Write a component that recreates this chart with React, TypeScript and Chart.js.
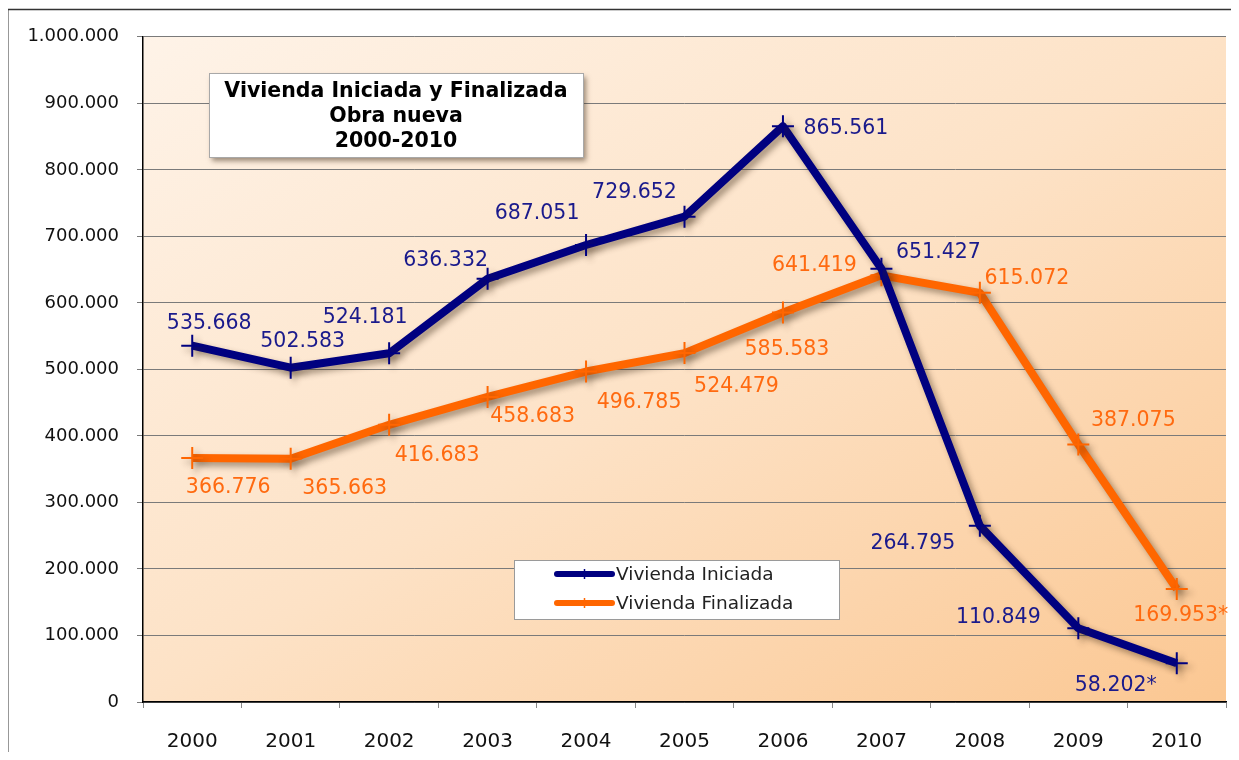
import React, { useEffect, useRef } from 'react';
import { Chart, registerables } from 'chart.js';

Chart.register(...registerables);

// ---------- data ----------
const years = ['2000', '2001', '2002', '2003', '2004', '2005', '2006', '2007', '2008', '2009', '2010'];
const iniciada = [535668, 502583, 524181, 636332, 687051, 729652, 865561, 651427, 264795, 110849, 58202];
const finalizada = [366776, 365663, 416683, 458683, 496785, 524479, 585583, 641419, 615072, 387075, 169953];
const iniciadaNotes = ['', '', '', '', '', '', '', '', '', '', '*'];
const finalizadaNotes = ['', '', '', '', '', '', '', '', '', '', '*'];
const seriesNames = ['Vivienda Iniciada', 'Vivienda Finalizada'];
const titleLines = ['Vivienda Iniciada y Finalizada', 'Obra nueva', '2000-2010'];
const yMin = 0;
const yMax = 1000000;
const yStep = 100000;

// ---------- styling / layout ----------
const NAVY = '#000080';
const ORANGE = '#FF6600';
const FONT = '"DejaVu Sans", Verdana, sans-serif';
// offsets of each data label from its point (px)
const iniciadaLabelOffsets = [[17, -22], [12, -26], [-24, -36], [-42, -18], [-49, -31], [-50, -24], [63, 2], [57, -16], [-67, 18], [-80, -11], [-61, 22]];
const finalizadaLabelOffsets = [[36, 30], [54, 30], [48, 31], [45, 20], [53, 31], [52, 34], [4, 37], [-67, -10], [47, -14], [55, -24], [4, 27]];

const fmt = (n: number) => Math.round(n).toString().replace(/\B(?=(\d{3})+(?!\d))/g, '.');

const backgroundPlugin = {
  id: 'bgPlugin',
  beforeDraw(chart: any) {
    const { ctx, chartArea: a } = chart;
    ctx.save();
    const W = a.right - a.left;
    const H = a.bottom - a.top;
    const cx = (a.left + a.right) / 2;
    const cy = (a.top + a.bottom) / 2;
    const d = Math.sqrt(W * W + H * H);
    const L = (W * H) / d;
    const ux = H / d;
    const uy = W / d;
    const g = ctx.createLinearGradient(cx - L * ux, cy - L * uy, cx + L * ux, cy + L * uy);
    g.addColorStop(0, '#FEF3E8');
    g.addColorStop(0.5, '#FDE2C6');
    g.addColorStop(1, '#FBC792');
    ctx.fillStyle = g;
    ctx.fillRect(a.left, a.top, W, H);
    // outer frame (left and top visible)
    ctx.strokeStyle = '#333';
    ctx.lineWidth = 1.5;
    ctx.beginPath();
    ctx.moveTo(0.75, chart.height);
    ctx.lineTo(0.75, 1.5);
    ctx.lineTo(chart.width, 1.5);
    ctx.stroke();
    ctx.restore();
  },
};

const shadowPlugin = {
  id: 'shadowPlugin',
  beforeDatasetDraw(chart: any) {
    const ctx = chart.ctx;
    ctx.save();
    ctx.shadowColor = 'rgba(60,40,20,0.45)';
    ctx.shadowBlur = 6;
    ctx.shadowOffsetX = 4;
    ctx.shadowOffsetY = 4;
  },
  afterDatasetDraw(chart: any) {
    chart.ctx.restore();
  },
};

const labelsPlugin = {
  id: 'labelsPlugin',
  afterDatasetsDraw(chart: any) {
    const ctx = chart.ctx;
    const configs = [
      { values: iniciada, notes: iniciadaNotes, offs: iniciadaLabelOffsets, color: '#1a1a8c' },
      { values: finalizada, notes: finalizadaNotes, offs: finalizadaLabelOffsets, color: '#FF6A10' },
    ];
    ctx.save();
    ctx.font = `20.5px ${FONT}`;
    ctx.textAlign = 'center';
    ctx.textBaseline = 'middle';
    configs.forEach((c, di) => {
      const meta = chart.getDatasetMeta(di);
      ctx.fillStyle = c.color;
      meta.data.forEach((pt: any, i: number) => {
        const [dx, dy] = c.offs[i];
        ctx.fillText(fmt(c.values[i]) + c.notes[i], pt.x + dx, pt.y + dy);
      });
    });
    ctx.restore();
  },
};

const boxesPlugin = {
  id: 'boxesPlugin',
  afterDraw(chart: any) {
    const ctx = chart.ctx;
    ctx.save();
    // title box
    const tx = 202, ty = 65, tw = 374, th = 84;
    ctx.shadowColor = 'rgba(60,40,20,0.5)';
    ctx.shadowBlur = 5;
    ctx.shadowOffsetX = 3;
    ctx.shadowOffsetY = 4;
    ctx.fillStyle = '#ffffff';
    ctx.fillRect(tx, ty, tw, th);
    ctx.shadowColor = 'transparent';
    ctx.strokeStyle = '#a8a8a8';
    ctx.lineWidth = 1;
    ctx.strokeRect(tx + 0.5, ty + 0.5, tw, th);
    ctx.fillStyle = '#000';
    ctx.font = `bold 20.5px ${FONT}`;
    ctx.textAlign = 'center';
    ctx.textBaseline = 'middle';
    titleLines.forEach((t, i) => ctx.fillText(t, tx + tw / 2, ty + 19 + i * 25));

    // legend box
    const lx = 507, ly = 552, lw = 325, lh = 59;
    ctx.fillStyle = '#ffffff';
    ctx.fillRect(lx, ly, lw, lh);
    ctx.strokeStyle = '#9a9a9a';
    ctx.strokeRect(lx + 0.5, ly + 0.5, lw, lh);
    const colors = [NAVY, ORANGE];
    seriesNames.forEach((name, i) => {
      const y = ly + 14 + i * 29;
      ctx.strokeStyle = colors[i];
      ctx.lineWidth = 6;
      ctx.lineCap = 'round';
      ctx.beginPath();
      ctx.moveTo(550, y);
      ctx.lineTo(605, y);
      ctx.stroke();
      ctx.lineWidth = 1.5;
      ctx.lineCap = 'butt';
      ctx.beginPath();
      ctx.moveTo(577.5, y - 5);
      ctx.lineTo(577.5, y + 5);
      ctx.stroke();
      ctx.fillStyle = '#222';
      ctx.font = `18.5px ${FONT}`;
      ctx.textAlign = 'left';
      ctx.textBaseline = 'middle';
      ctx.fillText(name, 609, y + 1);
    });
    ctx.restore();
  },
};

export default function App() {
  const canvasRef = useRef<HTMLCanvasElement | null>(null);

  useEffect(() => {
    document.documentElement.style.overflow = 'hidden';
    document.body.style.overflow = 'hidden';
    const canvas = canvasRef.current;
    if (!canvas) return;
    const chart = new Chart(canvas, {
      type: 'line',
      data: {
        labels: years,
        datasets: [
          {
            label: seriesNames[0],
            data: iniciada,
            borderColor: NAVY,
            backgroundColor: NAVY,
            borderWidth: 8,
            tension: 0,
            borderJoinStyle: 'round',
            pointStyle: 'cross',
            pointRadius: 11,
            pointBorderWidth: 2,
            pointBorderColor: NAVY,
            fill: false,
          },
          {
            label: seriesNames[1],
            data: finalizada,
            borderColor: ORANGE,
            backgroundColor: ORANGE,
            borderWidth: 8,
            tension: 0,
            borderJoinStyle: 'round',
            pointStyle: 'cross',
            pointRadius: 11,
            pointBorderWidth: 2,
            pointBorderColor: ORANGE,
            fill: false,
          },
        ],
      },
      options: {
        responsive: false,
        animation: false,
        layout: { padding: { top: 26, right: 10, left: 0, bottom: 0 } },
        plugins: {
          legend: { display: false },
          tooltip: { enabled: false },
          title: { display: false },
        },
        scales: {
          x: {
            offset: true,
            grid: { drawOnChartArea: false, drawTicks: true, tickLength: 6, color: '#888', offset: true },
            border: { color: '#000', width: 1.5 },
            ticks: { font: { family: FONT, size: 20 }, color: '#111', padding: 22 },
            afterFit: (s: any) => { s.height = 58; },
          },
          y: {
            min: yMin,
            max: yMax,
            grid: { color: '#7a7a7a', tickLength: 6, lineWidth: 1 },
            border: { color: '#000', width: 1.5 },
            ticks: {
              stepSize: yStep,
              font: { family: FONT, size: 18 },
              color: '#111',
              padding: 18,
              callback: (v: any) => fmt(Number(v)),
            },
            afterFit: (s: any) => { s.width = 136; },
          },
        },
      },
      plugins: [backgroundPlugin, shadowPlugin, labelsPlugin, boxesPlugin],
    });
    return () => chart.destroy();
  }, []);

  return (
    <div style={{ position: 'relative', width: 1232, height: 752, marginLeft: -1, marginBottom: -8 }}>
      <canvas ref={canvasRef} width={1232} height={752} style={{ display: 'block' }} />
    </div>
  );
}
